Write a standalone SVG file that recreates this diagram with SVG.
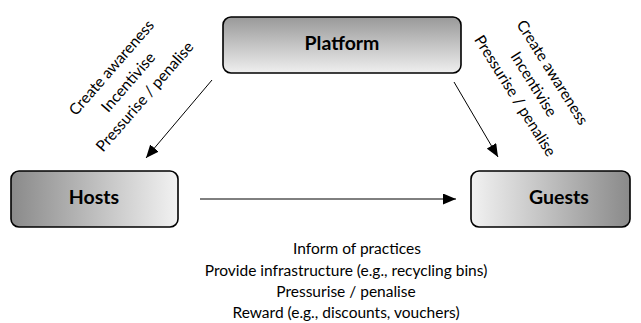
<svg xmlns="http://www.w3.org/2000/svg" width="641" height="323" viewBox="0 0 641 323">
  <style>
    .box { stroke: #000; stroke-width: 1.6; }
    .title { font-family: Lato, "Liberation Sans", sans-serif; font-weight: bold; font-size: 19.5px; text-anchor: middle; fill: #000; }
    .lbl { font-family: Lato, "Liberation Sans", sans-serif; font-size: 15.5px; text-anchor: middle; fill: #000; }
    .edge { stroke: #000; stroke-width: 1; fill: none; marker-end: url(#arrow); }
  </style>
  <defs>
    <linearGradient id="gradDown" x1="0" y1="0" x2="0" y2="1">
      <stop offset="0" stop-color="#999"/>
      <stop offset="1" stop-color="#efefef"/>
    </linearGradient>
    <linearGradient id="gradRight" x1="0" y1="0" x2="1" y2="0">
      <stop offset="0" stop-color="#8a8a8a"/>
      <stop offset="1" stop-color="#f2f2f2"/>
    </linearGradient>
    <linearGradient id="gradLeft" x1="0" y1="0" x2="1" y2="0">
      <stop offset="0" stop-color="#f2f2f2"/>
      <stop offset="1" stop-color="#8a8a8a"/>
    </linearGradient>
    <marker id="arrow" markerWidth="13" markerHeight="11" refX="13" refY="5.5" orient="auto" markerUnits="userSpaceOnUse">
      <path d="M0,0 L13,5.5 L0,11 Z" fill="#000"/>
    </marker>
  </defs>

  <g id="platform">
    <rect class="box" x="223" y="17" width="238" height="56" rx="8" fill="url(#gradDown)"/>
    <text class="title" x="342" y="50">Platform</text>
  </g>

  <g id="hosts">
    <rect class="box" x="11" y="171" width="167" height="56" rx="8" fill="url(#gradRight)"/>
    <text class="title" x="94" y="204">Hosts</text>
  </g>

  <g id="guests">
    <rect class="box" x="471" y="171" width="159" height="56" rx="8" fill="url(#gradLeft)"/>
    <text class="title" x="559" y="204">Guests</text>
  </g>

  <g id="connectors">
    <line class="edge" x1="212" y1="80" x2="146" y2="158"/>
    <line class="edge" x1="454" y1="82" x2="498" y2="157"/>
    <line class="edge" x1="200" y1="199" x2="456" y2="199"/>
  </g>

  <g id="labels">
    <g transform="translate(128,82) rotate(-49)">
      <text class="lbl" x="0" y="-16.5">Create awareness</text>
      <text class="lbl" x="0" y="5.5">Incentivise</text>
      <text class="lbl" x="0" y="27.5">Pressurise / penalise</text>
    </g>
    <g transform="translate(534,84) rotate(58)">
      <text class="lbl" x="0" y="-16.5">Create awareness</text>
      <text class="lbl" x="0" y="5.5">Incentivise</text>
      <text class="lbl" x="0" y="27.5">Pressurise / penalise</text>
    </g>
    <text class="lbl" x="357" y="254">Inform of practices</text>
    <text class="lbl" x="346" y="276">Provide infrastructure (e.g., recycling bins)</text>
    <text class="lbl" x="346" y="297">Pressurise / penalise</text>
    <text class="lbl" x="346" y="318">Reward (e.g., discounts, vouchers)</text>
  </g>
</svg>
